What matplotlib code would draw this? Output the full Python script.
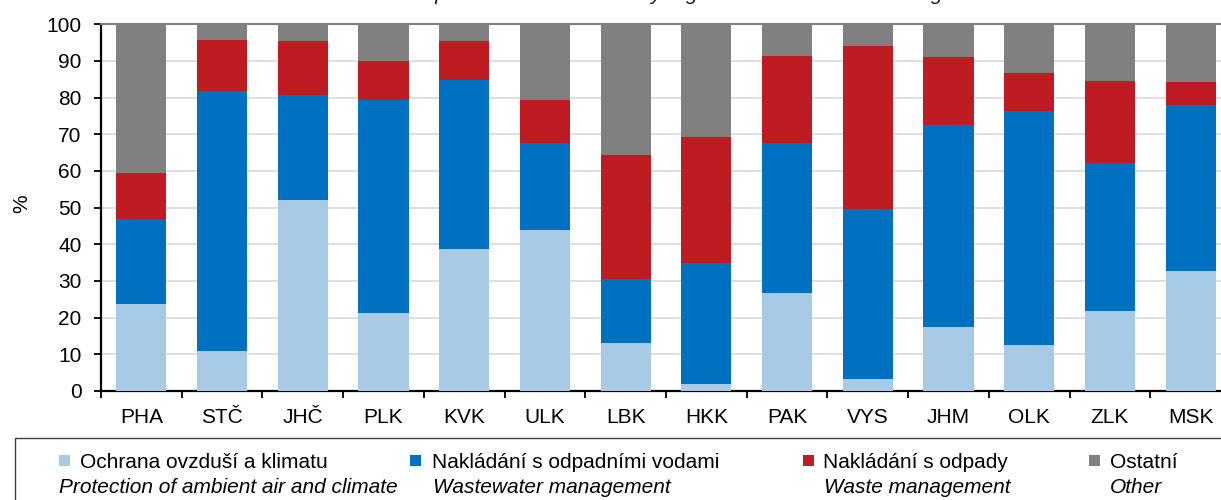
import matplotlib
matplotlib.use("Agg")
import matplotlib.pyplot as plt
from matplotlib.patches import Rectangle
import numpy as np

plt.rcParams['font.family'] = ['Liberation Sans', 'DejaVu Sans']

regions = ["PHA", "STČ", "JHČ", "PLK", "KVK", "ULK", "LBK", "HKK", "PAK", "VYS", "JHM", "OLK", "ZLK", "MSK"]

# cumulative tops -> converted to shares
air_top   = [23.7, 10.9, 52.0, 21.4, 38.6, 43.9, 13.1, 2.0, 26.8, 3.2, 17.4, 12.6, 21.7, 32.7]
water_top = [47.0, 81.8, 80.7, 79.3, 84.7, 67.5, 30.5, 35.0, 67.7, 49.5, 72.5, 76.4, 62.1, 77.9]
waste_top = [59.5, 95.8, 95.5, 90.1, 95.5, 79.3, 64.4, 69.3, 91.4, 94.1, 91.0, 86.8, 84.6, 84.4]

air   = np.array(air_top)
water = np.array(water_top) - np.array(air_top)
waste = np.array(waste_top) - np.array(water_top)
other = 100 - np.array(waste_top)

series_cz = ["Ochrana ovzduší a klimatu", "Nakládání s odpadními vodami", "Nakládání s odpady", "Ostatní"]
series_en = ["Protection of ambient air and climate", "Wastewater management", "Waste management", "Other"]
colors = ["#A7CBE6", "#0070C0", "#BE1B23", "#808080"]

title = "Environmental protection investment by region and environmental segment in 2021"

W, H = 1221, 500
fig = plt.figure(figsize=(W / 100, H / 100), dpi=100)
ax = fig.add_axes([101 / W, 109 / H, 1130 / W, 366.7 / H])

x = np.arange(len(regions))
bottom = np.zeros(len(regions))
for vals, c in zip([air, water, waste, other], colors):
    ax.bar(x, vals, bottom=bottom, width=0.62, color=c, linewidth=0, zorder=3)
    bottom += vals

ax.set_xlim(-0.5, len(regions) - 0.5)
ax.set_ylim(0, 100)
ax.set_yticks(np.arange(0, 101, 10))
ax.yaxis.grid(True, color="#D9D9D9", linewidth=1.2, zorder=0)
ax.set_axisbelow(True)

# boundaries as major ticks, labels at centres as minor ticks
ax.set_xticks(np.arange(-0.5, len(regions), 1.0))
ax.set_xticklabels([])
ax.set_xticks(x, minor=True)
ax.set_xticklabels(regions, minor=True)
ax.tick_params(axis="x", which="major", direction="out", length=5, width=1.3, color="black")
ax.tick_params(axis="x", which="minor", length=0, pad=12, labelsize=15)
ax.tick_params(axis="y", direction="out", length=5, width=1.3, pad=9, labelsize=15)

for s in ["left", "bottom"]:
    ax.spines[s].set_linewidth(1.6)
    ax.spines[s].set_color("black")
ax.spines["top"].set_color("#7F7F7F")
ax.spines["top"].set_linewidth(1.5)
ax.spines["right"].set_visible(False)

fig.text(21.5 / W, 1 - 203.5 / H, "%", rotation=90, ha="center", va="center", fontsize=15)

# title, cut off at top edge as in the reference
fig.text(680 / W, 1 - 0.3 / H, title, ha="center", va="baseline", fontsize=15, style="italic", color="#1A1A1A")

# legend box
fig.patches.append(Rectangle((15 / W, -0.2), 2.0, 0.2 + (H - 437.7) / H, fill=False,
                             edgecolor="#404040", linewidth=1.0, transform=fig.transFigure, figure=fig))
marker_x = [59, 410, 803, 1089]
cz_x = [80, 432, 823, 1110]
en_x = [59, 433, 824, 1110]
for mx, cx, ex, c, cz, en in zip(marker_x, cz_x, en_x, colors, series_cz, series_en):
    fig.patches.append(Rectangle((mx / W, (H - 466) / H), 11 / W, 11 / H, facecolor=c, edgecolor="none",
                                 transform=fig.transFigure, figure=fig))
    fig.text(cx / W, (H - 467.5) / H, cz, ha="left", va="baseline", fontsize=15)
    fig.text(ex / W, (H - 493.3) / H, en, ha="left", va="baseline", fontsize=15, style="italic")

fig.savefig("out.png", dpi=100)
